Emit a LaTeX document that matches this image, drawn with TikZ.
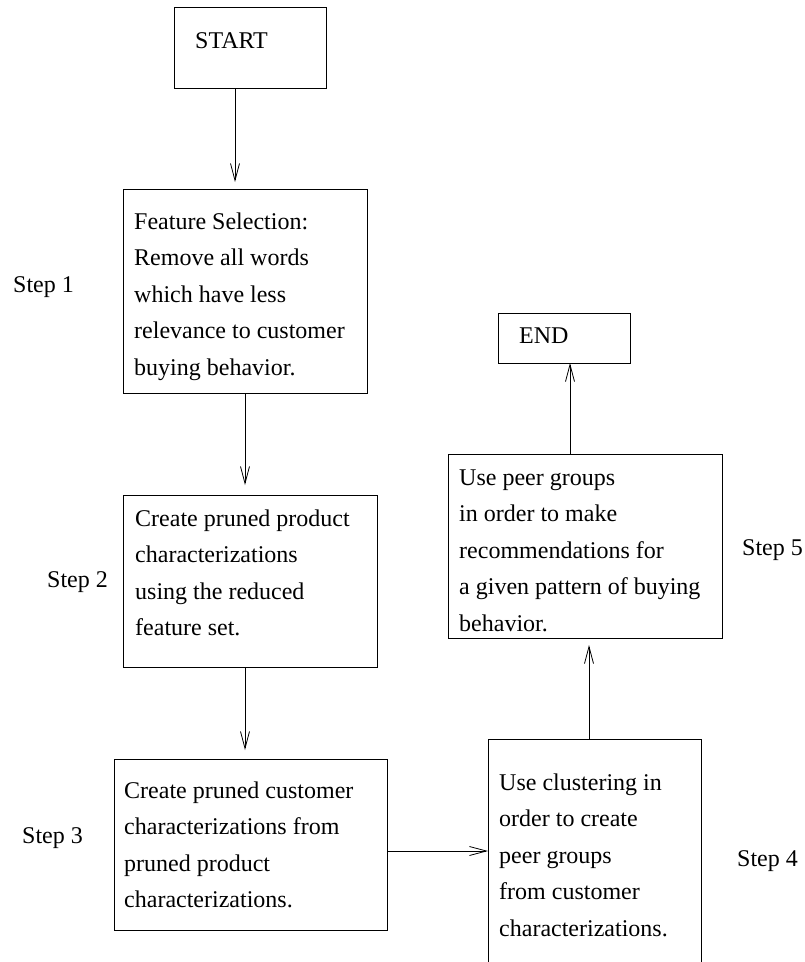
\documentclass[tikz,border=0pt]{standalone}
\usepackage{fontspec}
\setmainfont{Liberation Serif}
\usetikzlibrary{arrows.meta}

% stack of left-aligned lines; the baseline is that of the first line
\newcommand\boxlines[1]{\vtop{\baselineskip=36.6pt\lineskiplimit=-20pt\halign{##\hfil\cr#1\crcr}}}

\tikzset{
  stage/.style={draw, line width=0.8pt, rectangle, inner sep=0pt, outer sep=0pt, anchor=north west},
  txt/.style={anchor=base west, inner sep=0pt, font=\fontsize{24}{36.6}\selectfont},
  arr/.style={draw, line width=0.8pt, -{Straight Barb[length=17pt,width=9pt,line width=0.8pt]}}
}

\begin{document}
\begin{tikzpicture}[x=1pt, y=-1pt]
\useasboundingbox (0,0) rectangle (805,962);
\clip (0,0) rectangle (805,962);

% boxes
\node[stage, minimum width=152pt, minimum height=81pt]  (start) at (174,7)   {};
\node[stage, minimum width=244pt, minimum height=204pt] (s1)    at (123,189) {};
\node[stage, minimum width=254pt, minimum height=172pt] (s2)    at (123,495) {};
\node[stage, minimum width=273pt, minimum height=171pt] (s3)    at (114,759) {};
\node[stage, minimum width=213pt, minimum height=300pt] (s4)    at (488,739) {};
\node[stage, minimum width=274pt, minimum height=184pt] (s5)    at (448,454) {};
\node[stage, minimum width=132pt, minimum height=50pt]  (fin)   at (498,313) {};

% box texts
\node[txt] (tstart) at (195,48) {START};
\node[txt] (t1) at (134,229) {\boxlines{Feature Selection:\cr Remove all words\cr which have less\cr relevance to customer\cr buying behavior.}};
\node[txt] (t2) at (135,526) {\boxlines{Create pruned product\cr characterizations\cr using the reduced\cr feature set.}};
\node[txt] (t3) at (124,798) {\boxlines{Create pruned customer\cr characterizations from\cr pruned product\cr characterizations.}};
\node[txt] (t4) at (499,790) {\boxlines{Use clustering in\cr order to create\cr peer groups\cr from customer\cr characterizations.}};
\node[txt] (t5) at (459,485) {\boxlines{Use peer groups\cr in order to make\cr recommendations for\cr a given pattern of buying\cr behavior.}};
\node[txt] (tfin) at (519,343) {END};

% step labels
\node[txt] (l1) at (13,292)  {Step 1};
\node[txt] (l2) at (47,587)  {Step 2};
\node[txt] (l3) at (22,843)  {Step 3};
\node[txt] (l4) at (737,866) {Step 4};
\node[txt] (l5) at (742,555) {Step 5};

% connector guides
\coordinate (ca) at (235,0);
\coordinate (cb) at (245,0);
\coordinate (cc) at (589,0);
\coordinate (cd) at (570,0);
\coordinate (r34) at (0,851);

% connectors
\draw[arr, shorten >=7pt]  (start.south -| ca) -- (s1.north -| ca);
\draw[arr, shorten >=10pt] (s1.south -| cb) -- (s2.north -| cb);
\draw[arr, shorten >=9pt]  (s2.south -| cb) -- (s3.north -| cb);
\draw[arr]                 (s3.east |- r34) -- (s4.west |- r34);
\draw[arr, shorten >=7pt]  (s4.north -| cc) -- (s5.south -| cc);
\draw[arr]                 (s5.north -| cd) -- (fin.south -| cd);
\end{tikzpicture}
\end{document}
